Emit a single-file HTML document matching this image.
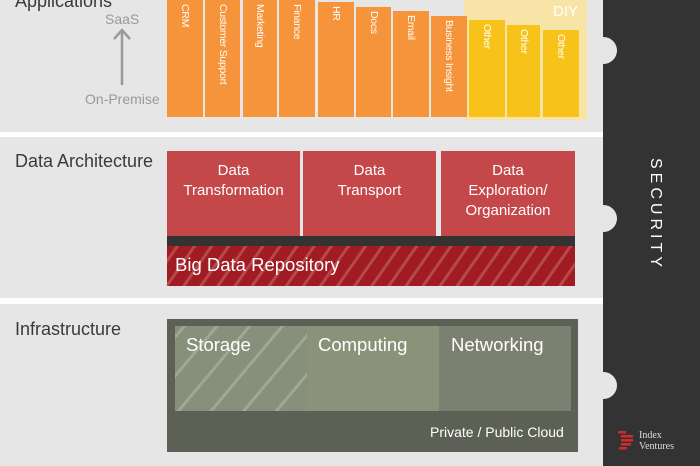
<!DOCTYPE html>
<html><head><meta charset="utf-8"><style>
*{margin:0;padding:0;box-sizing:border-box}
body{width:700px;height:466px;overflow:hidden;background:#e6e6e6;position:relative;font-family:"Liberation Sans",sans-serif}
.a{position:absolute}
.lbl{position:absolute;color:#3a3a3a;font-size:18px}
.bar{position:absolute;background:#f5943a}
.bar span{position:absolute;left:50%;top:4px;transform-origin:0 0;transform:rotate(90deg) translateY(-50%);white-space:nowrap;color:#fff;font-size:10.5px;letter-spacing:-0.3px}
.y{background:#f7c31b}
.red{position:absolute;top:151px;height:85px;background:#c4474a;color:#fff;font-size:15px;text-align:center;line-height:20px;padding-top:10px}
</style></head><body>
<div class="a" style="left:0;top:132px;width:603px;height:5px;background:#fff"></div>
<div class="a" style="left:0;top:298px;width:603px;height:6px;background:#fff"></div>
<div class="lbl" style="left:15px;top:-9px;font-size:18px">Applications</div>
<div class="a" style="left:105px;top:11px;color:#999;font-size:14px">SaaS</div>
<svg class="a" style="left:112px;top:28px" width="20" height="60"><line x1="10" y1="3" x2="10" y2="57" stroke="#999" stroke-width="2.5"/><polyline points="2,11 10,2 18,11" fill="none" stroke="#999" stroke-width="2.5"/></svg>
<div class="a" style="left:85px;top:91px;color:#999;font-size:14px">On-Premise</div>
<div class="a" style="left:464px;top:0;width:123px;height:120px;background:#f9e4a8"></div>
<div class="a" style="left:553px;top:3px;color:#fff;font-size:15px">DIY</div>
<div class="bar" style="left:167px;width:36px;top:0;height:117px"><span>CRM</span></div>
<div class="bar" style="left:205px;width:35px;top:0;height:117px"><span>Customer Support</span></div>
<div class="bar" style="left:243px;width:34px;top:0;height:117px"><span>Marketing</span></div>
<div class="bar" style="left:279px;width:36px;top:0;height:117px"><span>Finance</span></div>
<div class="bar" style="left:318px;width:36px;top:2px;height:115px"><span>HR</span></div>
<div class="bar" style="left:356px;width:35px;top:7px;height:110px"><span>Docs</span></div>
<div class="bar" style="left:393px;width:36px;top:11px;height:106px"><span>Email</span></div>
<div class="bar" style="left:431px;width:36px;top:16px;height:101px"><span>Business Insight</span></div>
<div class="bar y" style="left:469px;width:36px;top:20px;height:97px"><span>Other</span></div>
<div class="bar y" style="left:507px;width:33px;top:25px;height:92px"><span>Other</span></div>
<div class="bar y" style="left:543px;width:36px;top:30px;height:87px"><span>Other</span></div>

<div class="lbl" style="left:15px;top:151px">Data Architecture</div>
<div class="a" style="left:167px;top:236px;width:408px;height:10px;background:#333"></div>
<div class="red" style="left:167px;width:133px">Data<br>Transformation</div>
<div class="red" style="left:303px;width:133px">Data<br>Transport</div>
<div class="red" style="left:441px;width:134px">Data<br>Exploration/<br>Organization</div>
<div class="a" style="left:167px;top:246px;width:408px;height:40px;background:repeating-linear-gradient(-55deg,#a01c22 0 11px,#b5484c 11px 14px);color:#fff;font-size:18.5px;padding:8px 0 0 8px">Big Data Repository</div>

<div class="lbl" style="left:15px;top:319px">Infrastructure</div>
<div class="a" style="left:167px;top:319px;width:411px;height:133px;background:#5d6054"></div>
<div class="a" style="left:175px;top:326px;width:132px;height:85px;background:repeating-linear-gradient(-50deg,#87907a 0 22px,#a0a893 22px 25px)"></div>
<div class="a" style="left:307px;top:326px;width:132px;height:85px;background:#8a9379"></div>
<div class="a" style="left:439px;top:326px;width:132px;height:85px;background:#7b8070"></div>
<div class="a" style="left:186px;top:334px;color:#fff;font-size:18.5px">Storage</div>
<div class="a" style="left:318px;top:334px;color:#fff;font-size:18.5px">Computing</div>
<div class="a" style="left:451px;top:334px;color:#fff;font-size:18.5px">Networking</div>
<div class="a" style="left:430px;top:424px;color:#fff;font-size:14px">Private / Public Cloud</div>

<div class="a" style="left:603px;top:0;width:97px;height:466px;background:#333"></div>
<div class="a" style="left:590px;top:37px;width:27px;height:27px;border-radius:50%;background:#e6e6e6"></div>
<div class="a" style="left:590px;top:205px;width:27px;height:27px;border-radius:50%;background:#e6e6e6"></div>
<div class="a" style="left:590px;top:372px;width:27px;height:27px;border-radius:50%;background:#e6e6e6"></div>
<div class="a" style="left:664px;top:158px;transform-origin:0 0;transform:rotate(90deg);color:#fff;font-size:16px;letter-spacing:4px;white-space:nowrap">SECURITY</div>
<svg class="a" style="left:616px;top:430px" width="22" height="20"><g fill="#d42a2a"><rect x="2" y="1" width="8" height="2.5"/><rect x="5" y="5" width="12" height="2.5"/><rect x="5" y="9" width="12" height="2.5"/><rect x="5" y="13" width="10" height="2.5"/><rect x="3" y="17" width="8" height="2.5"/></g></svg>
<div class="a" style="left:639px;top:430px;color:#ddd;font-size:10px;line-height:11px;font-family:'Liberation Serif',serif">Index<br>Ventures</div>
</body></html>
